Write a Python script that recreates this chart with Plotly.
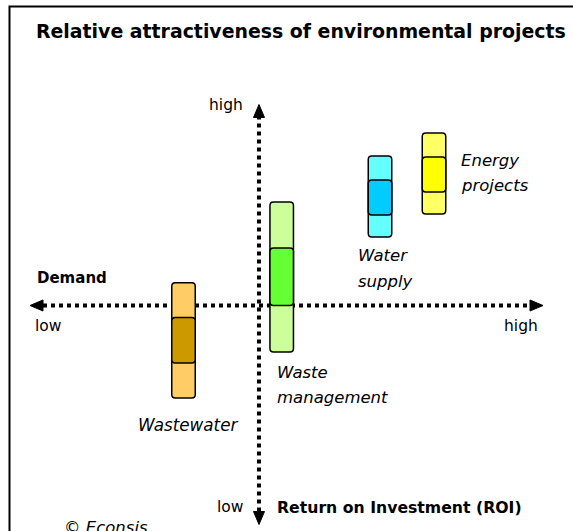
import plotly.graph_objects as go

# ---------------- data (units: 1 = 10 px, origin where the axes cross) ----------
projects = ["Wastewater", "Waste management", "Water supply", "Energy projects"]
bar_center = [-7.55, 2.27, 12.1, 17.5]
bar_outer_low = [-9.25, -4.65, 6.85, 9.15]
bar_outer_high = [2.28, 10.35, 14.95, 17.25]
bar_inner_low = [-5.75, 0.0, 9.05, 11.35]
bar_inner_high = [-1.2, 5.75, 12.55, 14.85]
outer_colors = ["#FFCC66", "#CCFF99", "#66FFFF", "#FFFF66"]
inner_colors = ["#CC9900", "#66FF33", "#00CCFF", "#FFFF00"]

demand_axis = [-22.9, 28.4]   # arrow tips, horizontal axis
roi_axis = [-21.9, 20.1]      # arrow tips, vertical axis
axis_labels_h = ["low", "high"]
axis_labels_v = ["low", "high"]

BAR_W = 2.35
R = 0.35
X_RANGE = [-25.9, 31.4]
Y_RANGE = [-22.55, 30.55]


def rounded_rect(x0, x1, y0, y1, r):
    return (f"M {x0+r},{y0} L {x1-r},{y0} Q {x1},{y0} {x1},{y0+r} "
            f"L {x1},{y1-r} Q {x1},{y1} {x1-r},{y1} L {x0+r},{y1} "
            f"Q {x0},{y1} {x0},{y1-r} L {x0},{y0+r} Q {x0},{y0} {x0+r},{y0} Z")


fig = go.Figure()
fig.add_trace(go.Scatter(x=[X_RANGE[0]], y=[Y_RANGE[0]], mode="markers",
                         marker=dict(opacity=0), hoverinfo="skip", showlegend=False))

shapes = []
# border frame
shapes.append(dict(type="rect", xref="paper", yref="paper",
                   x0=9.5/573, x1=1.05, y0=-0.05, y1=1-6.5/531,
                   line=dict(color="black", width=2), fillcolor="rgba(0,0,0,0)"))

# axes (dotted) with arrow heads
AL = 1.3   # arrow length
AW = 0.55  # arrow half width
shapes.append(dict(type="line", xref="x", yref="y", x0=demand_axis[0]+AL, x1=demand_axis[1]-AL,
                   y0=0, y1=0, line=dict(color="black", width=4, dash="4px,4px")))
shapes.append(dict(type="line", xref="x", yref="y", x0=0, x1=0,
                   y0=roi_axis[0]+AL, y1=roi_axis[1]-AL, line=dict(color="black", width=4, dash="4px,4px")))
arrow_paths = [
    f"M {demand_axis[0]},0 L {demand_axis[0]+AL},{AW} L {demand_axis[0]+AL},{-AW} Z",
    f"M {demand_axis[1]},0 L {demand_axis[1]-AL},{AW} L {demand_axis[1]-AL},{-AW} Z",
    f"M 0,{roi_axis[0]} L {AW},{roi_axis[0]+AL} L {-AW},{roi_axis[0]+AL} Z",
    f"M 0,{roi_axis[1]} L {AW},{roi_axis[1]-AL} L {-AW},{roi_axis[1]-AL} Z",
]
for p in arrow_paths:
    shapes.append(dict(type="path", xref="x", yref="y", path=p, fillcolor="black",
                       line=dict(color="black", width=1)))

# project bars
for cx, ol, oh, il, ih, oc, ic in zip(bar_center, bar_outer_low, bar_outer_high,
                                      bar_inner_low, bar_inner_high, outer_colors, inner_colors):
    x0, x1 = cx - BAR_W/2, cx + BAR_W/2
    shapes.append(dict(type="path", xref="x", yref="y", path=rounded_rect(x0, x1, ol, oh, R),
                       fillcolor=oc, line=dict(color="black", width=1.5)))
    shapes.append(dict(type="path", xref="x", yref="y", path=rounded_rect(x0, x1, il, ih, R),
                       fillcolor=ic, line=dict(color="black", width=1.5)))

FONT = "DejaVu Sans, Arial, sans-serif"
ann = []


def txt(x, y, s, size=16, bold=False, italic=False, xa="left", ya="middle"):
    t = f"<b>{s}</b>" if bold else s
    t = f"<i>{t}</i>" if italic else t
    ann.append(dict(x=x, y=y, xref="x", yref="y", text=t, showarrow=False,
                    xanchor=xa, yanchor=ya, font=dict(family=FONT, size=size, color="black")))


txt(-22.5, 27.5, "Relative attractiveness of environmental projects", size=18.9, bold=True)
txt(-22.4, 2.75, "Demand", size=15, bold=True)
txt(-22.6, -2.05, axis_labels_h[0], size=15.5)
txt(28.1, -2.05, axis_labels_h[1], size=15.5, xa="right")
txt(-1.45, 20.1, axis_labels_v[1], size=15.5, xa="right")
txt(-1.35, -20.15, axis_labels_v[0], size=15.5, xa="right")
txt(1.6, -20.15, "Return on Investment (ROI)", size=15.7, bold=True)
txt(-12.3, -11.95, "Wastewater", size=16.8, italic=True)
txt(1.6, -6.65, "Waste", size=16.5, italic=True)
txt(1.6, -9.15, "management", size=16.5, italic=True)
txt(9.7, 5.05, "Water", size=16.5, italic=True)
txt(9.7, 2.45, "supply", size=16.5, italic=True)
txt(20.0, 14.55, "Energy", size=16.5, italic=True)
txt(20.0, 12.05, "projects", size=16.5, italic=True)
txt(-19.7, -22.2, "© Econsis", size=16.5, italic=True)

fig.update_layout(
    width=573, height=531, margin=dict(l=0, r=0, t=0, b=0),
    paper_bgcolor="white", plot_bgcolor="white",
    xaxis=dict(range=X_RANGE, visible=False, fixedrange=True),
    yaxis=dict(range=Y_RANGE, visible=False, fixedrange=True),
    shapes=shapes, annotations=ann, showlegend=False,
)
fig.write_html("out.html", config={"displayModeBar": False},
               post_script="document.body.style.margin='0';document.body.style.overflow='hidden';")
